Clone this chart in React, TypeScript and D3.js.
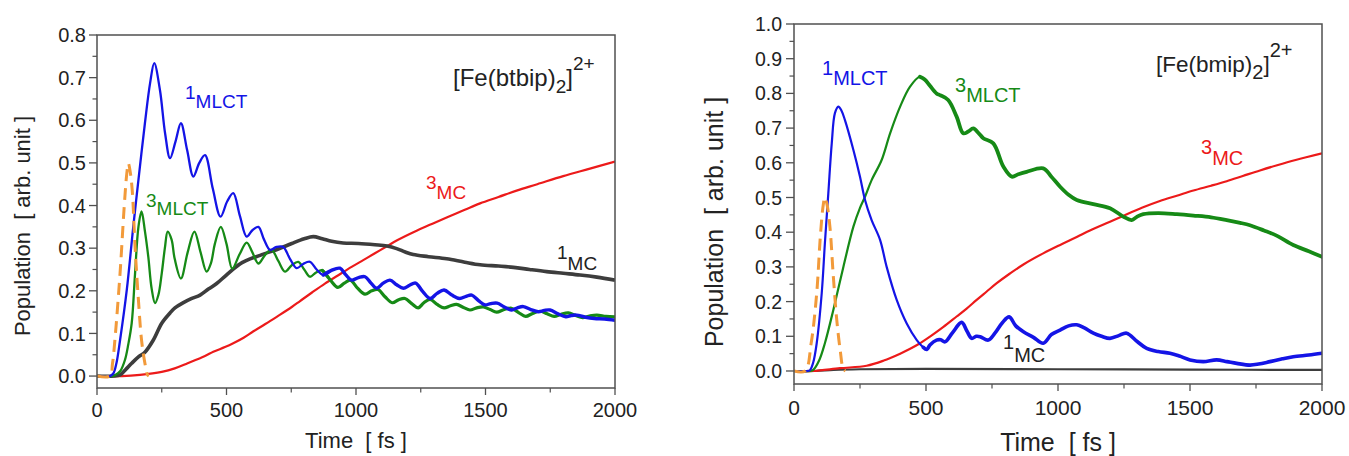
import React from 'react';
import * as d3 from 'd3';

type Pt = [number, number];

// ---------- Tick values ----------
const xTickValues = [0, 500, 1000, 1500, 2000];
const xMinorValues = [250, 750, 1250, 1750];
const leftYTicks = [0, 0.1, 0.2, 0.3, 0.4, 0.5, 0.6, 0.7, 0.8];
const rightYTicks = [0, 0.1, 0.2, 0.3, 0.4, 0.5, 0.6, 0.7, 0.8, 0.9, 1.0];

// ---------- Left panel: [Fe(btbip)2]2+ ----------
const leftPump: Pt[] = [[0,0],[50,0],[60,0.03],[69,0.084],[89,0.241],[105,0.397],[115,0.475],[121,0.499],[128,0.48],[136,0.436],[147,0.303],[160,0.178],[172,0.084],[185,0.03],[195,0.003],[200,0]];

const left1MLCT: Pt[] = [[0,0],[50,0],[63,0.006],[75,0.03],[89,0.084],[115,0.202],[140,0.35],[160,0.46],[185,0.593],[205,0.687],[221,0.734],[243,0.671],[263,0.569],[282,0.511],[303,0.55],[324,0.593],[348,0.53],[372,0.468],[395,0.5],[417,0.518],[447,0.44],[477,0.374],[503,0.41],[526,0.429],[552,0.375],[578,0.327],[600,0.342],[623,0.35],[645,0.32],[668,0.296],[693,0.303],[719,0.303],[745,0.275],[771,0.253],[796,0.263],[822,0.268],[848,0.25],[874,0.237],[905,0.248],[938,0.253],[960,0.238],[983,0.225],[1010,0.231],[1035,0.233],[1058,0.218],[1080,0.206],[1105,0.218],[1131,0.225],[1157,0.214],[1183,0.206],[1207,0.213],[1230,0.218],[1258,0.198],[1286,0.182],[1313,0.194],[1340,0.202],[1370,0.19],[1400,0.182],[1425,0.187],[1447,0.19],[1473,0.177],[1498,0.167],[1520,0.17],[1545,0.171],[1573,0.162],[1601,0.155],[1623,0.16],[1646,0.163],[1675,0.156],[1704,0.151],[1727,0.154],[1749,0.155],[1780,0.146],[1810,0.139],[1831,0.142],[1852,0.143],[1886,0.138],[1920,0.135],[1960,0.134],[2000,0.131]];

const left3MLCT: Pt[] = [[0,0],[60,0],[69,0.002],[90,0.012],[108,0.038],[121,0.075],[134,0.124],[147,0.241],[160,0.35],[172,0.386],[185,0.34],[198,0.28],[211,0.205],[224,0.171],[237,0.19],[250,0.241],[262,0.3],[273,0.339],[288,0.32],[300,0.275],[324,0.229],[350,0.29],[376,0.339],[400,0.29],[423,0.245],[440,0.265],[455,0.31],[478,0.35],[500,0.31],[522,0.252],[550,0.285],[578,0.313],[600,0.29],[623,0.264],[650,0.285],[674,0.296],[700,0.27],[726,0.245],[752,0.26],[777,0.268],[800,0.25],[822,0.233],[846,0.243],[870,0.248],[900,0.226],[930,0.208],[955,0.218],[978,0.225],[1005,0.207],[1035,0.192],[1060,0.2],[1085,0.203],[1112,0.186],[1140,0.172],[1165,0.179],[1189,0.182],[1215,0.17],[1240,0.16],[1262,0.172],[1286,0.18],[1313,0.168],[1340,0.16],[1365,0.165],[1388,0.168],[1415,0.161],[1440,0.155],[1466,0.16],[1492,0.162],[1518,0.156],[1543,0.15],[1572,0.156],[1600,0.159],[1628,0.149],[1655,0.14],[1682,0.147],[1710,0.152],[1738,0.146],[1765,0.14],[1792,0.145],[1820,0.148],[1848,0.142],[1875,0.137],[1902,0.141],[1930,0.143],[1965,0.14],[2000,0.139]];

const left1MC: Pt[] = [[0,0],[89,0.003],[110,0.015],[134,0.03],[160,0.045],[185,0.056],[217,0.084],[250,0.124],[282,0.148],[301,0.16],[330,0.171],[366,0.182],[398,0.19],[430,0.204],[462,0.217],[494,0.234],[526,0.251],[560,0.266],[591,0.275],[630,0.283],[661,0.29],[700,0.298],[752,0.311],[800,0.322],[835,0.327],[870,0.322],[906,0.316],[950,0.312],[1009,0.311],[1073,0.308],[1120,0.305],[1157,0.299],[1190,0.291],[1221,0.285],[1280,0.28],[1350,0.275],[1420,0.267],[1479,0.261],[1550,0.258],[1608,0.255],[1670,0.25],[1736,0.245],[1800,0.241],[1865,0.237],[1930,0.232],[2000,0.225]];

const left3MC: Pt[] = [[0,0],[97,0],[166,0.003],[250,0.01],[300,0.018],[350,0.03],[417,0.047],[449,0.057],[494,0.068],[526,0.077],[566,0.09],[604,0.105],[650,0.122],[694,0.139],[752,0.162],[784,0.176],[830,0.196],[880,0.217],[930,0.236],[983,0.256],[1028,0.272],[1073,0.288],[1121,0.305],[1157,0.318],[1234,0.341],[1290,0.356],[1350,0.372],[1420,0.39],[1479,0.405],[1550,0.42],[1620,0.435],[1700,0.45],[1800,0.469],[1900,0.486],[2000,0.503]];

// ---------- Right panel: [Fe(bmip)2]2+ ----------
const rightPump: Pt[] = [[0,0],[42,0],[65,0.08],[86,0.224],[100,0.39],[111,0.48],[117,0.5],[125,0.48],[136,0.416],[149,0.272],[162,0.147],[175,0.06],[187,0.005],[195,0]];

const right1MLCT: Pt[] = [[0,0],[50,0],[61,0.003],[73,0.025],[86,0.08],[105,0.224],[117,0.368],[130,0.512],[143,0.656],[155,0.743],[168,0.762],[180,0.75],[193,0.723],[225,0.637],[250,0.56],[269,0.493],[294,0.435],[326,0.378],[351,0.3],[389,0.205],[427,0.137],[465,0.089],[490,0.068],[503,0.062],[515,0.075],[540,0.089],[556,0.09],[572,0.084],[600,0.11],[635,0.14],[655,0.115],[673,0.094],[690,0.1],[705,0.099],[736,0.089],[761,0.109],[790,0.14],[815,0.156],[840,0.13],[869,0.113],[907,0.097],[944,0.08],[975,0.105],[1008,0.118],[1040,0.13],[1071,0.133],[1100,0.124],[1134,0.109],[1165,0.1],[1197,0.094],[1230,0.102],[1260,0.109],[1300,0.085],[1336,0.065],[1380,0.056],[1424,0.051],[1460,0.043],[1500,0.032],[1550,0.027],[1601,0.032],[1640,0.027],[1677,0.022],[1727,0.017],[1760,0.02],[1803,0.027],[1850,0.035],[1891,0.041],[1950,0.046],[2000,0.051]];

const right3MLCT: Pt[] = [[0,0],[60,0],[73,0.003],[95,0.03],[117,0.08],[149,0.176],[187,0.3],[225,0.416],[250,0.47],[269,0.502],[294,0.55],[332,0.608],[364,0.685],[402,0.762],[439,0.819],[477,0.848],[495,0.84],[515,0.822],[540,0.8],[553,0.795],[584,0.781],[616,0.733],[641,0.685],[660,0.69],[679,0.699],[700,0.685],[717,0.671],[755,0.656],[793,0.589],[825,0.56],[850,0.567],[881,0.574],[944,0.584],[975,0.56],[1008,0.531],[1040,0.508],[1071,0.493],[1134,0.481],[1197,0.469],[1247,0.445],[1279,0.435],[1300,0.445],[1323,0.452],[1380,0.455],[1450,0.452],[1513,0.448],[1580,0.443],[1639,0.435],[1690,0.427],[1727,0.42],[1780,0.405],[1828,0.39],[1891,0.363],[1950,0.345],[2000,0.329]];

const right3MC: Pt[] = [[0,0],[73,0],[174,0.008],[275,0.015],[340,0.03],[402,0.05],[440,0.064],[471,0.077],[515,0.099],[566,0.127],[616,0.157],[654,0.18],[692,0.205],[730,0.229],[768,0.253],[818,0.281],[869,0.307],[944,0.339],[1010,0.364],[1071,0.386],[1121,0.405],[1197,0.43],[1247,0.447],[1320,0.471],[1386,0.49],[1450,0.505],[1513,0.52],[1580,0.534],[1639,0.547],[1700,0.562],[1765,0.578],[1830,0.593],[1900,0.608],[2000,0.627]];

const right1MC: Pt[] = [[0,0],[80,0],[150,0.003],[250,0.005],[500,0.006],[1000,0.005],[1500,0.004],[2000,0.003]];

// ---------- colours ----------
const BLUE = '#1414e6';
const GREEN = '#168a16';
const RED = '#ec1a1a';
const GREY = '#3d3d3d';
const ORANGE = '#f29a3a';
const AXIS = '#505050';
const TEXT = '#222';
const FONT = "'Liberation Sans', Arial, Helvetica, sans-serif";

interface Series {
  data: Pt[];
  color: string;
  width: number;
  lateWidth?: number;
  split?: number;
  dash?: string;
}

interface LabelSpec {
  x: number;
  y: number;
  sup: string;
  main: string;
  color: string;
  size: number;
  supDy: number;
}

interface PanelProps {
  left: number;
  right: number;
  top: number;
  bottom: number;
  yDomain: [number, number];
  yTicks: number[];
  yMinor: number[];
  tickFont: number;
  xTickFont: number;
  xLabelY: number;
  yLabelX: number;
  titleFont: number;
  yTitleX: number;
  yTitleY: number;
  xTitleY: number;
  series: Series[];
  labels: LabelSpec[];
  compound: { x: number; y: number; size: number; sub: number; name: string };
}

const Panel: React.FC<PanelProps> = (p) => {
  const x = d3.scaleLinear().domain([0, 2000]).range([p.left, p.right]);
  const y = d3.scaleLinear().domain(p.yDomain).range([p.bottom, p.top]);
  const line = d3
    .line<Pt>()
    .x((d) => x(d[0]))
    .y((d) => y(d[1]))
    .curve(d3.curveCatmullRom.alpha(0.5));
  const majorLen = 8;
  const minorLen = 4.5;
  const cx = (p.left + p.right) / 2;

  const paths: React.ReactNode[] = [];
  p.series.forEach((s, i) => {
    if (s.split !== undefined && s.lateWidth !== undefined) {
      const idx = s.data.findIndex((d) => d[0] >= s.split!);
      const early = s.data.slice(0, idx + 1);
      const late = s.data.slice(Math.max(0, idx - 1));
      paths.push(
        <path key={`e${i}`} d={line(early) || ''} fill="none" stroke={s.color} strokeWidth={s.width} strokeLinejoin="round" strokeLinecap="round" />
      );
      paths.push(
        <path key={`l${i}`} d={line(late) || ''} fill="none" stroke={s.color} strokeWidth={s.lateWidth} strokeLinejoin="round" strokeLinecap="round" />
      );
    } else {
      paths.push(
        <path key={`s${i}`} d={line(s.data) || ''} fill="none" stroke={s.color} strokeWidth={s.width} strokeDasharray={s.dash} strokeLinejoin="round" />
      );
    }
  });

  return (
    <g fontFamily={FONT}>
      <defs>
        <clipPath id={`clip${p.left}`}>
          <rect x={p.left} y={p.top} width={p.right - p.left} height={p.bottom - p.top} />
        </clipPath>
      </defs>
      <g clipPath={`url(#clip${p.left})`}>{paths}</g>
      <rect x={p.left} y={p.top} width={p.right - p.left} height={p.bottom - p.top} fill="none" stroke={AXIS} strokeWidth={1.5} />
      {p.yTicks.map((t) => (
        <g key={`yt${t}`}>
          <line x1={p.left - majorLen} x2={p.left} y1={y(t)} y2={y(t)} stroke={AXIS} strokeWidth={1.3} />
          <text x={p.yLabelX} y={y(t)} dy="0.36em" textAnchor="end" fontSize={p.tickFont} fill={TEXT}>
            {t.toFixed(1)}
          </text>
        </g>
      ))}
      {p.yMinor.map((t) => (
        <line key={`ym${t}`} x1={p.left - minorLen} x2={p.left} y1={y(t)} y2={y(t)} stroke={AXIS} strokeWidth={1.2} />
      ))}
      {xTickValues.map((t) => (
        <g key={`xt${t}`}>
          <line x1={x(t)} x2={x(t)} y1={p.bottom} y2={p.bottom + majorLen - 1} stroke={AXIS} strokeWidth={1.3} />
          <text x={x(t)} y={p.xLabelY} textAnchor="middle" fontSize={p.xTickFont} fill={TEXT}>
            {t}
          </text>
        </g>
      ))}
      {xMinorValues.map((t) => (
        <line key={`xm${t}`} x1={x(t)} x2={x(t)} y1={p.bottom} y2={p.bottom + minorLen} stroke={AXIS} strokeWidth={1.2} />
      ))}
      <text transform={`translate(${p.yTitleX},${p.yTitleY}) rotate(-90)`} textAnchor="middle" fontSize={p.titleFont} fill={TEXT} style={{ whiteSpace: 'pre' }}>
        {'Population  [ arb. unit ]'}
      </text>
      <text x={cx} y={p.xTitleY} textAnchor="middle" fontSize={p.titleFont} fill={TEXT} style={{ whiteSpace: 'pre' }}>
        {'Time  [ fs ]'}
      </text>
      {p.labels.map((l, i) => (
        <text key={`lab${i}`} x={l.x} y={l.y} fontSize={l.size} fill={l.color}>
          <tspan dy={l.supDy}>{l.sup}</tspan>
          <tspan dy={-l.supDy}>{l.main}</tspan>
        </text>
      ))}
      <text x={p.compound.x} y={p.compound.y} fontSize={p.compound.size} fill={TEXT}>
        <tspan>{`[Fe(${p.compound.name})`}</tspan>
        <tspan fontSize={p.compound.sub} dy={p.compound.size * 0.3}>2</tspan>
        <tspan dy={-p.compound.size * 0.3}>]</tspan>
        <tspan fontSize={p.compound.sub} dy={-p.compound.size * 0.66}>2+</tspan>
      </text>
    </g>
  );
};

const App: React.FC = () => {
  const leftMinor = [0.05, 0.15, 0.25, 0.35, 0.45, 0.55, 0.65, 0.75];
  const rightMinor = [0.05, 0.15, 0.25, 0.35, 0.45, 0.55, 0.65, 0.75, 0.85, 0.95];
  return (
    <svg width={1349} height={456} style={{ position: 'absolute', left: 0, top: 0, background: '#fff' }}>
      <rect x={0} y={0} width={1349} height={456} fill="#fff" />
      <Panel
        left={97}
        right={615}
        top={35}
        bottom={388}
        yDomain={[-0.028, 0.8]}
        yTicks={leftYTicks}
        yMinor={leftMinor}
        tickFont={20}
        xTickFont={20}
        xLabelY={417}
        yLabelX={86}
        titleFont={22}
        yTitleX={30}
        yTitleY={226}
        xTitleY={448}
        series={[
          { data: left3MC, color: RED, width: 2.2 },
          { data: left1MC, color: GREY, width: 3.6 },
          { data: left3MLCT, color: GREEN, width: 2.3, lateWidth: 3.2, split: 900 },
          { data: left1MLCT, color: BLUE, width: 2.3, lateWidth: 3.4, split: 900 },
          { data: leftPump, color: ORANGE, width: 3, dash: '12,7' },
        ]}
        labels={[
          { x: 185, y: 108, sup: '1', main: 'MLCT', color: BLUE, size: 19, supDy: -9 },
          { x: 146, y: 215, sup: '3', main: 'MLCT', color: GREEN, size: 19, supDy: -8 },
          { x: 426, y: 199, sup: '3', main: 'MC', color: RED, size: 19, supDy: -10 },
          { x: 557, y: 270, sup: '1', main: 'MC', color: TEXT, size: 19, supDy: -11 },
        ]}
        compound={{ x: 453, y: 86, size: 24, sub: 19, name: 'btbip' }}
      />
      <Panel
        left={794}
        right={1322}
        top={24}
        bottom={384}
        yDomain={[-0.0375, 1.0]}
        yTicks={rightYTicks}
        yMinor={rightMinor}
        tickFont={19.5}
        xTickFont={21}
        xLabelY={415}
        yLabelX={782}
        titleFont={25}
        yTitleX={723}
        yTitleY={222}
        xTitleY={451}
        series={[
          { data: right1MC, color: GREY, width: 2.2 },
          { data: right3MC, color: RED, width: 2.2 },
          { data: right3MLCT, color: GREEN, width: 2.2, lateWidth: 3.8, split: 480 },
          { data: right1MLCT, color: BLUE, width: 2.2, lateWidth: 3.6, split: 500 },
          { data: rightPump, color: ORANGE, width: 3, dash: '12,7' },
        ]}
        labels={[
          { x: 822, y: 85, sup: '1', main: 'MLCT', color: BLUE, size: 20, supDy: -10 },
          { x: 955, y: 102, sup: '3', main: 'MLCT', color: GREEN, size: 20, supDy: -10 },
          { x: 1201, y: 165, sup: '3', main: 'MC', color: RED, size: 20, supDy: -11 },
          { x: 1003, y: 362, sup: '1', main: 'MC', color: TEXT, size: 20, supDy: -13 },
        ]}
        compound={{ x: 1156, y: 72, size: 22.5, sub: 20, name: 'bmip' }}
      />
    </svg>
  );
};

export default App;
